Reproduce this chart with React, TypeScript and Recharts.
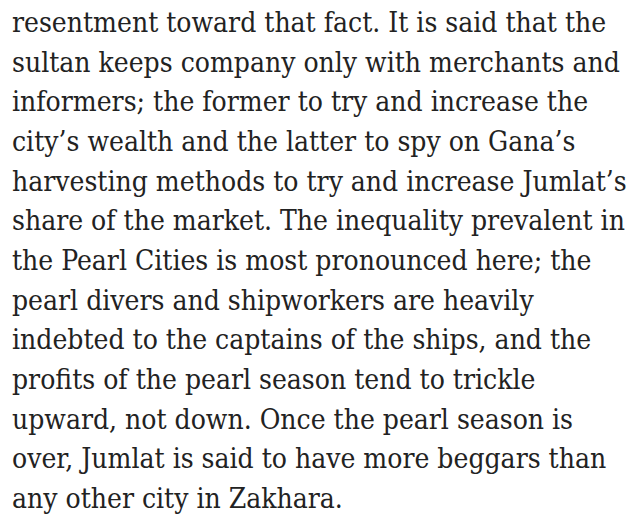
import { Scatter, ScatterChart, XAxis, YAxis } from "recharts";

// one entry per printed line of the paragraph
const lines: string[] = [
  "resentment toward that fact. It is said that the",
  "sultan keeps company only with merchants and",
  "informers; the former to try and increase the",
  "city\u2019s wealth and the latter to spy on Gana\u2019s",
  "harvesting methods to try and increase Jumlat\u2019s",
  "share of the market. The inequality prevalent in",
  "the Pearl Cities is most pronounced here; the",
  "pearl divers and shipworkers are heavily",
  "indebted to the captains of the ships, and the",
  "profits of the pearl season tend to trickle",
  "upward, not down. Once the pearl season is",
  "over, Jumlat is said to have more beggars than",
  "any other city in Zakhara.",
];

const lineIndex: number[] = lines.map((_, i) => i);

const data = lines.map((text, i) => ({ x: 0, row: lineIndex[i], text }));

function LineText(props: any) {
  const { cx, cy, payload } = props;
  return (
    <text
      x={cx}
      y={cy}
      fill="#222222"
      fontFamily="'DejaVu Serif Condensed', 'DejaVu Serif', serif"
      fontSize={28}
    >
      {payload.text}
    </text>
  );
}

export default function App() {
  return (
    <div style={{ width: 633, height: 518, background: "#ffffff" }}>
      <style>{"body{margin:0}"}</style>
      <ScatterChart width={633} height={518} margin={{ top: 32, right: 0, bottom: 10, left: 12 }}>
        <XAxis type="number" dataKey="x" domain={[0, 1]} hide />
        <YAxis type="number" dataKey="row" domain={[0, 12]} reversed hide />
        <Scatter data={data} shape={<LineText />} isAnimationActive={false} />
      </ScatterChart>
    </div>
  );
}
